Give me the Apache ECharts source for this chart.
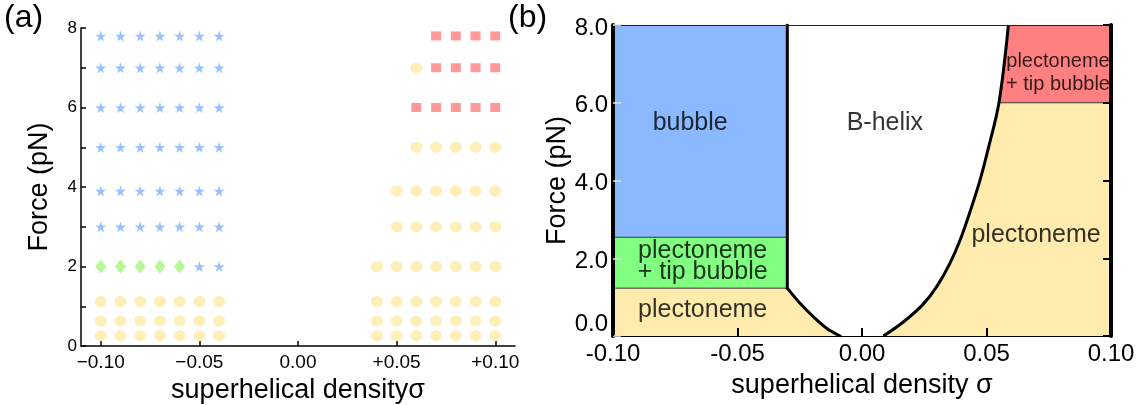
<!DOCTYPE html>
<html>
<head>
<meta charset="utf-8">
<script src="https://cdn.jsdelivr.net/npm/echarts@6/dist/echarts.min.js"></script>
<style>
  html, body { margin: 0; padding: 0; background: #fff; }
  #chart { width: 1147px; height: 405px; }
</style>
</head>
<body>
<div id="chart"></div>
<script>
// ---- panel (a): measured states on a sigma x force grid ----
const sigmaLeft = [-0.10, -0.09, -0.08, -0.07, -0.06, -0.05, -0.04];
const sigmaRight = [0.04, 0.05, 0.06, 0.07, 0.08, 0.09, 0.10];
const forceRows = [7.8, 7.0, 6.0, 5.0, 3.9, 3.0, 2.0, 1.12, 0.63, 0.26];
// B bubble, T plectoneme + tip bubble (neg), P plectoneme, R plectoneme + tip bubble (pos), - nothing
const statesLeft = ['BBBBBBB', 'BBBBBBB', 'BBBBBBB', 'BBBBBBB', 'BBBBBBB', 'BBBBBBB', 'TTTTTBB', 'PPPPPPP', 'PPPPPPP', 'PPPPPPP'];
const statesRight = ['---RRRR', '--PRRRR', '--RRRRR', '--PPPPP', '-PPPPPP', '-PPPPPP', 'PPPPPPP', 'PPPPPPP', 'PPPPPPP', 'PPPPPPP'];
const xTicksA = [-0.10, -0.05, 0, 0.05, 0.10];

// ---- panel (b): phase boundaries ----
const bubbleEdge = -0.030;
const tipBubbleLow = 1.23;
const bubbleLow = 2.54;
const redLow = 6.0;
const leftCurve = [[-0.030, 1.23], [-0.0249, 0.84], [-0.0196, 0.50], [-0.0142, 0.20], [-0.0088, 0]];
const rightCurve = [[0.0086, 0], [0.0166, 0.36], [0.0246, 0.82], [0.0300, 1.27], [0.0353, 1.87], [0.0394, 2.47],
  [0.0434, 3.20], [0.0474, 4.01], [0.0507, 4.82], [0.0550, 6.0], [0.0588, 8]];
const regionNames = ['bubble', 'B-helix', 'plectoneme\n+ tip bubble', 'plectoneme', 'plectoneme', 'plectoneme\n+ tip bubble'];
const regionLabelAt = [[-0.069, 5.48], [0.0092, 5.48], [-0.064, 1.91], [-0.064, 0.67], [0.0699, 2.60], [0.0787, 6.76]];

const FONT = "'Liberation Sans', Arial, Helvetica, sans-serif";
const BLUE = '#8bb9ff', GREEN = '#80ff80', YELLOW = '#feebad', RED = '#ff8080';

// group panel (a) points by state
const pts = { B: [], T: [], P: [], R: [] };
forceRows.forEach((f, i) => {
  sigmaLeft.forEach((s, j) => { const c = statesLeft[i][j]; if (pts[c]) pts[c].push([s, f]); });
  sigmaRight.forEach((s, j) => { const c = statesRight[i][j]; if (pts[c]) pts[c].push([s, f]); });
});

// panel (b) polygons
const rightLow = rightCurve.filter(p => p[1] <= redLow);
const rightHigh = rightCurve.filter(p => p[1] >= redLow);
const regions = [
  { color: BLUE, pts: [[-0.10, bubbleLow], [-0.10, 8], [bubbleEdge, 8], [bubbleEdge, bubbleLow]] },
  { color: GREEN, pts: [[-0.10, tipBubbleLow], [-0.10, bubbleLow], [bubbleEdge, bubbleLow], [bubbleEdge, tipBubbleLow]] },
  { color: YELLOW, pts: [[-0.10, 0], [-0.10, tipBubbleLow]].concat(leftCurve) },
  { color: YELLOW, pts: rightLow.concat([[0.10, redLow], [0.10, 0]]) },
  { color: RED, pts: rightHigh.concat([[0.10, 8], [0.10, redLow]]) }
];

const star = 'path://M50,0 L61,35 L98,35 L68,57 L79,91 L50,70 L21,91 L32,57 L2,35 L39,35 Z';

const fmtA = v => v === 0 ? '0.00' : (v < 0 ? '\u2212' + Math.abs(v).toFixed(2) : '+' + v.toFixed(2));

const chart = echarts.init(document.getElementById('chart'), null, { renderer: 'canvas' });

const option = {
  animation: false,
  backgroundColor: '#fff',
  textStyle: { fontFamily: FONT },
  title: [
    { text: '(a)', left: 4, top: 2, padding: 0, textStyle: { fontFamily: FONT, fontSize: 32, fontWeight: 'normal', color: '#000' } },
    { text: '(b)', left: 508, top: 2, padding: 0, textStyle: { fontFamily: FONT, fontSize: 32, fontWeight: 'normal', color: '#000' } }
  ],
  grid: [
    { left: 81, top: 28, width: 434, height: 318, outerBoundsMode: 'none' },
    { left: 613, top: 25, width: 498, height: 311, outerBoundsMode: 'none' }
  ],
  xAxis: [
    {
      gridIndex: 0, type: 'value', min: -0.11, max: 0.11,
      name: 'superhelical density\u03c3', nameLocation: 'middle', nameGap: 25,
      nameTextStyle: { fontFamily: FONT, fontSize: 27, color: '#000' },
      axisLine: { onZero: false, lineStyle: { color: '#000', width: 1.5 } },
      axisTick: { inside: true, length: 5, customValues: xTicksA, lineStyle: { color: '#000', width: 1.5 } },
      axisLabel: { customValues: xTicksA, formatter: fmtA, fontSize: 19, margin: 7, color: '#000' },
      splitLine: { show: false }
    },
    {
      gridIndex: 1, type: 'value', min: -0.10, max: 0.10, interval: 0.05, z: 5,
      name: 'superhelical density \u03c3', nameLocation: 'middle', nameGap: 36,
      nameTextStyle: { fontFamily: FONT, fontSize: 27, color: '#000' },
      axisLine: { onZero: false, lineStyle: { color: '#000', width: 1 } },
      axisTick: { inside: true, length: 8, lineStyle: { color: '#000', width: 2 } },
      axisLabel: { formatter: v => v.toFixed(2), fontSize: 24, margin: 6, color: '#000' },
      splitLine: { show: false }
    },
    {
      gridIndex: 1, type: 'value', position: 'top', min: -0.10, max: 0.10, z: 5,
      axisLine: { onZero: false, lineStyle: { color: '#222', width: 1 } },
      axisTick: { show: false }, axisLabel: { show: false }, splitLine: { show: false }
    }
  ],
  yAxis: [
    {
      gridIndex: 0, type: 'value', min: 0, max: 8, interval: 1,
      name: 'Force (pN)', nameLocation: 'middle', nameGap: 28,
      nameTextStyle: { fontFamily: FONT, fontSize: 27, color: '#000' },
      axisLine: { show: true, onZero: false, lineStyle: { color: '#000', width: 1.5 } },
      axisTick: { show: true, inside: true, length: 5, lineStyle: { color: '#000', width: 1.5 } },
      axisLabel: { formatter: v => (v % 2 === 0 ? String(v) : ''), fontSize: 17, margin: 4, color: '#000' },
      splitLine: { show: false }
    },
    {
      gridIndex: 1, type: 'value', min: 0, max: 8, interval: 2, z: 5,
      name: 'Force (pN)', nameLocation: 'middle', nameGap: 40,
      nameTextStyle: { fontFamily: FONT, fontSize: 27, color: '#000' },
      axisLine: { show: true, onZero: false, lineStyle: { color: '#000', width: 4 } },
      axisTick: { show: true, inside: true, length: 8, lineStyle: { color: '#e6e6e6', width: 1.5 } },
      axisLabel: {
        fontSize: 24, margin: 5, color: '#000',
        formatter: v => (v === 0 ? '{lo|0.0}' : '{n|' + v.toFixed(1) + '}'),
        rich: {
          lo: { fontSize: 24, fontFamily: FONT, color: '#000', padding: [0, 0, 24, 0] },
          n: { fontSize: 24, fontFamily: FONT, color: '#000', padding: [6, 0, 0, 0] }
        }
      },
      splitLine: { show: false }
    },
    {
      gridIndex: 1, type: 'value', position: 'right', min: 0, max: 8, interval: 2, z: 5,
      axisLine: { show: true, onZero: false, lineStyle: { color: '#000', width: 4 } },
      axisTick: { show: true, inside: true, length: 8, lineStyle: { color: '#000', width: 2 } },
      axisLabel: { show: false }, splitLine: { show: false }
    }
  ],
  series: [
    // panel (a)
    { type: 'scatter', xAxisIndex: 0, yAxisIndex: 0, data: pts.B, symbol: star, symbolSize: 11, itemStyle: { color: '#80b0ff' } },
    { type: 'scatter', xAxisIndex: 0, yAxisIndex: 0, data: pts.T, symbol: 'diamond', symbolSize: [11, 14], itemStyle: { color: '#a5f57a' } },
    { type: 'scatter', xAxisIndex: 0, yAxisIndex: 0, data: pts.P, symbol: 'circle', symbolSize: [12, 11], itemStyle: { color: '#feeaa6' } },
    { type: 'scatter', xAxisIndex: 0, yAxisIndex: 0, data: pts.R, symbol: 'rect', symbolSize: [10, 9], itemStyle: { color: '#ff8080' } },
    // panel (b) filled regions
    {
      type: 'custom', xAxisIndex: 1, yAxisIndex: 1, z: 1, clip: true,
      data: regions.map(() => [0, 4]),
      renderItem: (params, api) => {
        const r = regions[params.dataIndex];
        return { type: 'polygon', shape: { points: r.pts.map(p => api.coord(p)) }, style: { fill: r.color, stroke: null } };
      }
    },
    // thin separators
    {
      type: 'line', xAxisIndex: 1, yAxisIndex: 1, symbol: 'none', z: 2,
      lineStyle: { color: '#333', width: 1 },
      data: [[-0.10, bubbleLow], [bubbleEdge, bubbleLow], '-', [-0.10, tipBubbleLow], [bubbleEdge, tipBubbleLow], '-', [0.055, redLow], [0.10, redLow]]
    },
    // thick phase boundaries
    {
      type: 'line', xAxisIndex: 1, yAxisIndex: 1, symbol: 'none', z: 3,
      lineStyle: { color: '#000', width: 3, cap: 'round' },
      data: [[bubbleEdge, 8], [bubbleEdge, tipBubbleLow]]
    },
    {
      type: 'line', xAxisIndex: 1, yAxisIndex: 1, symbol: 'none', z: 3, smooth: 0.35,
      lineStyle: { color: '#000', width: 3, cap: 'round' },
      data: leftCurve
    },
    {
      type: 'line', xAxisIndex: 1, yAxisIndex: 1, symbol: 'none', z: 3, smooth: 0.35,
      lineStyle: { color: '#000', width: 3 },
      data: rightCurve
    },
    // region labels
    {
      type: 'scatter', xAxisIndex: 1, yAxisIndex: 1, z: 4, symbolSize: 1,
      itemStyle: { color: 'rgba(0,0,0,0)' },
      data: regionNames.map((n, i) => ({
        name: n, value: regionLabelAt[i],
        label: i === 5 ? { fontSize: 20, lineHeight: 23 } : (i === 2 ? { fontSize: 25, lineHeight: 21 } : { fontSize: 25 })
      })),
      label: { show: true, position: 'inside', formatter: p => p.name, color: '#000', fontFamily: FONT, fontSize: 25, align: 'center' }
    }
  ]
};

chart.setOption(option);
</script>
</body>
</html>
